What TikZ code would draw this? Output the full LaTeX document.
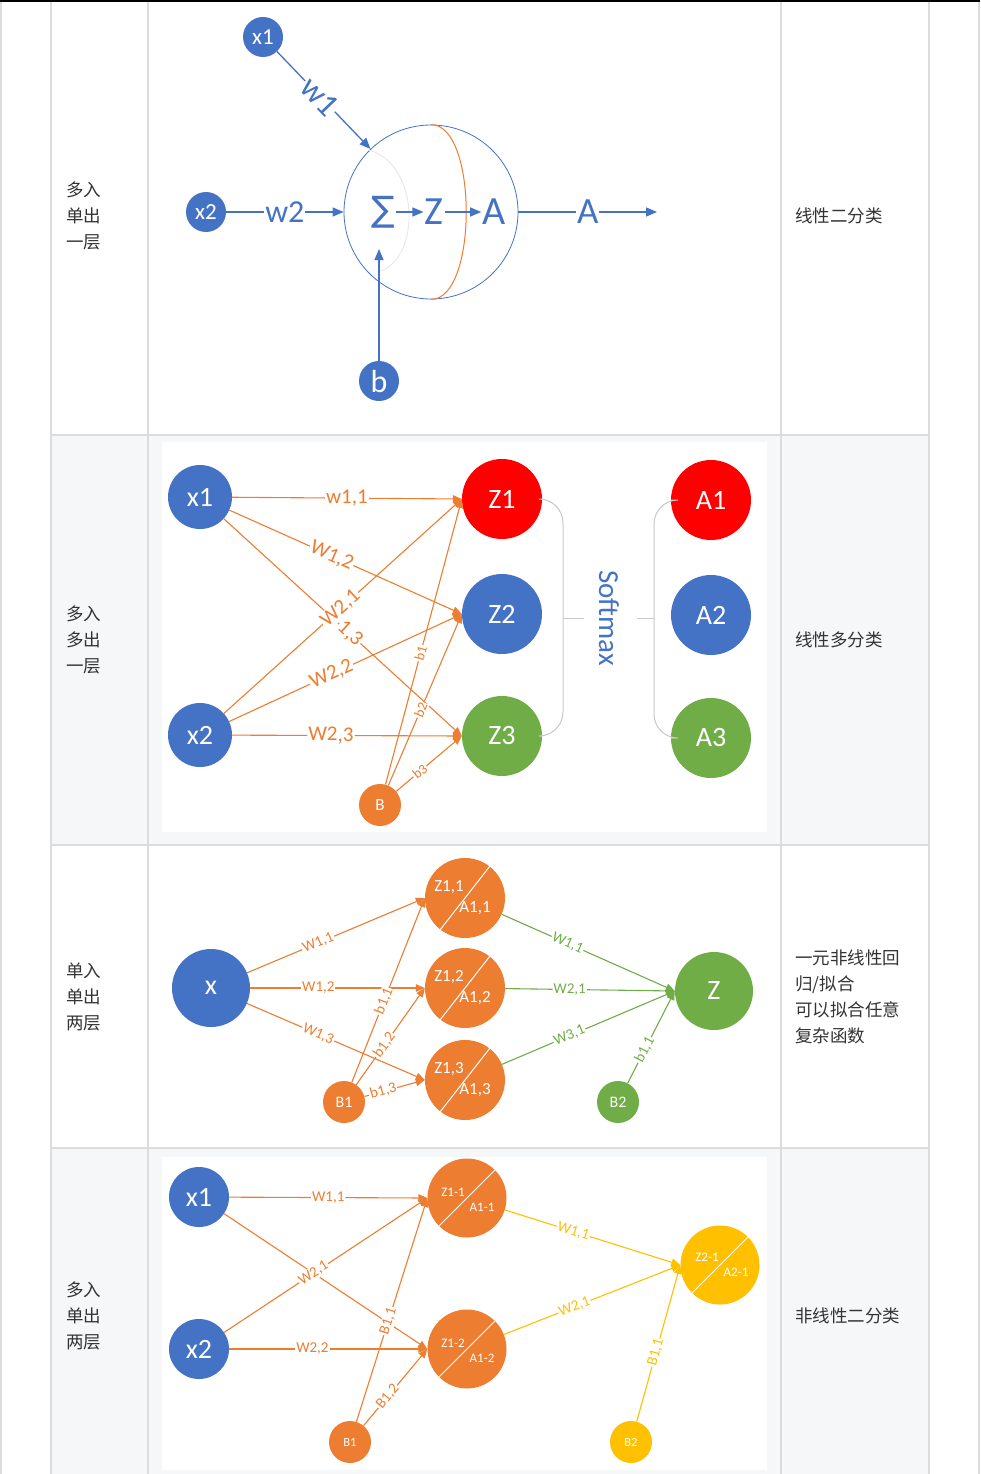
\documentclass[tikz,border=0pt]{standalone}
\usepackage{fontspec}
\setmainfont{Carlito}
\newfontfamily\cjk{Noto Sans CJK SC}
\newfontfamily\dvsans{DejaVu Sans}
\usepackage{xcolor}
\usepackage{tikz}
\usetikzlibrary{arrows.meta,calc}

\definecolor{cblue}{HTML}{4472C4}
\definecolor{corange}{HTML}{ED7D31}
\definecolor{cgreen}{HTML}{70AD47}
\definecolor{cred}{HTML}{FF0000}
\definecolor{cyellow}{HTML}{FFC000}
\definecolor{gridgray}{HTML}{DCDCDC}
\definecolor{rowgray}{HTML}{F6F7F9}
\definecolor{txtgray}{HTML}{333333}
\definecolor{bracketgray}{HTML}{C8C8C8}
\newcommand\fsz[1]{\fontsize{#1}{#1}\selectfont}

\tikzset{
  % --- table -----------------------------------------------------------------
  gridline/.style={gridgray,line width=2pt},
  celltxt/.style={anchor=west,align=left,inner sep=0pt,text=txtgray,
                  font=\cjk\fontsize{17.5}{26}\selectfont},
  % --- neurons ---------------------------------------------------------------
  unit/.style={circle,inner sep=0pt,text=white,minimum size=#1},
  inlab/.style={inner sep=0pt,text=white},
  % --- connectors ------------------------------------------------------------
  link/.style={-{Triangle[length=9pt,width=7.5pt]},line width=1.1pt},
  biglink/.style={-{Triangle[length=11pt,width=9pt]},line width=1.3pt,cblue},
  wlab/.style={pos=#1,sloped,fill=white,inner sep=1pt},
  brk/.style={bracketgray,line width=1pt},
}

\begin{document}
\begin{tikzpicture}[x=1pt, y=-1pt]
  \useasboundingbox (0,0) rectangle (980,1474);
  \fill[white] (0,0) rectangle (980,1474);

  % shaded rows and the two pasted figures on them
  \fill[rowgray] (51,435) rectangle (929,845);
  \fill[rowgray] (51,1148) rectangle (929,1474);
  \fill[white] (162,442) rectangle (767,832);
  \fill[white] (162,1157) rectangle (767,1470);
  \foreach \x in {1,51,148,781,929,979}
    \draw[gridline] (\x,0) -- (\x,1474);
  \foreach \y in {435,845,1148}
    \draw[gridline] (51,\y) -- (929,\y);
  \draw[black,line width=2pt] (0,1) -- (980,1);

  % first and last column
  \foreach \i/\y/\t in {1/216/{多入\\单出\\一层}, 2/640/{多入\\多出\\一层},
                        3/997/{单入\\单出\\两层}, 4/1316/{多入\\单出\\两层}}
    \node[celltxt] (kind\i) at (66,\y) {\t};
  \foreach \i/\y/\t in {1/216/线性二分类, 2/640/线性多分类, 4/1316/非线性二分类}
    \node[celltxt] (task\i) at (795,\y) {\t};
  \node[celltxt] (task3) at (795,997) {一元非线性回\\归/拟合\\可以拟合任意\\复杂函数};

  % --- row 1: one neuron ------------------------------------------------------
  \node[unit=174,draw=cblue,line width=0.8pt] (cell) at (431,212) {};
  \draw[black!10,line width=0.8pt] (369,150) .. controls (421,165) and (421,262) .. (377,272);
  \draw[corange,line width=1pt] (cell.north) .. controls +(47,0) and +(47,0) .. (cell.south);
  \node[unit=40,fill=cblue,font=\fsz{23}] (ax1) at (263,37) {x1};
  \node[unit=40,fill=cblue,font=\fsz{23}] (ax2) at (206,212) {x2};
  \node[unit=40,fill=cblue,font=\fsz{32}] (ab) at (379,381) {b};
  \node[text=cblue,inner sep=1pt,font=\dvsans\fsz{35}] (sig) at (383,212) {∑};
  \node[text=cblue,inner sep=1pt,font=\fsz{40}] (zz) at (434,212) {Z};
  \node[text=cblue,inner sep=1pt,font=\fsz{40}] (aa) at (494,212) {A};
  \coordinate (bend) at (379,249);
  \coordinate (aout) at (657,212);
  \draw[biglink] (ax1) -- node[wlab=0.46,font=\fsz{33}] {w1} (cell);
  \draw[biglink] (ax2) -- node[wlab=0.5,font=\fsz{32}] {w2} (cell.west);
  \draw[biglink] (ab) -- (bend);
  \draw[biglink] (sig) -- (zz);
  \draw[biglink] (zz) -- (aa);
  \draw[biglink] (cell.east) -- node[wlab=0.5,font=\fsz{37}] {A} (aout);

  % --- row 2: two inputs, three outputs, softmax -------------------------------
  \node[unit=64,fill=cblue,font=\fsz{28}] (bx1) at (200,497) {x1};
  \node[unit=64,fill=cblue,font=\fsz{28}] (bx2) at (200,735) {x2};
  \node[unit=42,fill=corange,font=\fsz{17}] (bb) at (380,805) {B};
  \foreach \n/\y/\c/\l in {z1/499/cred/Z1, z2/614/cblue/Z2, z3/736/cgreen/Z3}
    \node[unit=80,fill=\c,font=\fsz{28}] (\n) at (502,\y) {\l};
  \foreach \n/\y/\c/\l in {a1/500/cred/A1, a2/615/cblue/A2, a3/738/cgreen/A3}
    \node[unit=80,fill=\c,font=\fsz{28}] (\n) at (711,\y) {\l};
  \foreach \s/\t/\p/\w in {bx1/z1/0.5/{w1,1}, bx1/z2/0.44/{W1,2}, bx1/z3/0.53/{1,3},
                           bx2/z1/0.49/{W2,1}, bx2/z2/0.44/{W2,2}, bx2/z3/0.43/{W2,3}}
    \draw[link,corange] (\s) -- node[wlab=\p,font=\fsz{21}] {\w} (\t.west);
  \foreach \t/\p/\w in {z1/0.46/b1, z2/0.44/b2, z3/0.36/b3}
    \draw[link,corange] (bb) -- node[wlab=\p,font=\fsz{14}] {\w} (\t.west);
  \node[rotate=-90,inner sep=0pt,text=cblue,font=\fsz{29}] (smx) at (609,618) {Softmax};
  \coordinate (lk) at (563,618);
  \coordinate (rk) at (654,618);
  \draw[brk,rounded corners=24] (z1.east) -| (lk) |- (z3.east);
  \draw[brk,rounded corners=24] (a1.west) -| (rk) |- (a3.west);
  \draw[brk,shorten >=15pt] (lk) -- (smx.south);
  \draw[brk,shorten >=18pt] (rk) -- (smx.north);

  % --- row 3: one input, hidden layer of three --------------------------------
  \node[unit=78,fill=cblue,font=\fsz{28}] (cx) at (211,988) {x};
  \node[unit=78,fill=cgreen,font=\fsz{28}] (cz) at (714,991) {Z};
  \node[unit=42,fill=corange,font=\fsz{16}] (cb1) at (344,1102) {B1};
  \node[unit=42,fill=cgreen,font=\fsz{16}] (cb2) at (618,1102) {B2};
  \foreach \i/\y in {1/898,2/988,3/1080}{
    \node[unit=80,fill=corange] (h\i) at (465,\y) {};
    \draw[white,line width=1pt] (h\i.232) -- (h\i.52);
    \node[inlab,font=\fsz{17}] (hz\i) at ($(h\i)+(-16,-11)$) {Z1,\i};
    \node[inlab,font=\fsz{17}] (ha\i) at ($(h\i)+(10,10)$) {A1,\i};
  }
  \foreach \t/\p/\w in {h1/0.40/{W1,1}, h2/0.39/{W1,2}, h3/0.40/{W1,3}}
    \draw[link,corange] (cx) -- node[wlab=\p,font=\fsz{15}] {\w} (\t.west);
  \foreach \t/\p/\w in {h1/0.44/{b1,1}, h2/0.41/{b1,2}, h3/0.31/{b1,3}}
    \draw[link,corange] (cb1) -- node[wlab=\p,font=\fsz{15}] {\w} (\t.west);
  \foreach \s/\p/\w in {h1/0.38/{W1,1}, h2/0.38/{W2,1}, h3/0.39/{W3,1}, cb2/0.36/{b1,1}}
    \draw[link,cgreen] (\s) -- node[wlab=\p,font=\fsz{15}] {\w} (cz.west);

  % --- row 4: two inputs, hidden layer of two ---------------------------------
  \node[unit=60,fill=cblue,font=\fsz{28}] (dx1) at (199,1197) {x1};
  \node[unit=60,fill=cblue,font=\fsz{28}] (dx2) at (199,1349) {x2};
  \node[unit=42,fill=corange,font=\fsz{12.5}] (db1) at (350,1442) {B1};
  \node[unit=42,fill=cyellow,font=\fsz{12.5}] (db2) at (631,1442) {B2};
  \foreach \i/\y in {1/1198,2/1349}{
    \node[unit=79,fill=corange] (dh\i) at (467,\y) {};
    \draw[white,line width=1pt] (dh\i.225) -- (dh\i.45);
    \node[inlab,font=\fsz{13}] (dhz\i) at ($(dh\i)+(-14,-6)$) {Z1-\i};
    \node[inlab,font=\fsz{13}] (dha\i) at ($(dh\i)+(15,9)$) {A1-\i};
  }
  \node[unit=79,fill=cyellow] (dout) at (720,1265) {};
  \draw[white,line width=1pt] (dout.225) -- (dout.45);
  \node[inlab,font=\fsz{13}] (doz) at ($(dout)+(-13,-8)$) {Z2-1};
  \node[inlab,font=\fsz{13}] (doa) at ($(dout)+(16,7)$) {A2-1};
  \draw[link,corange] (dx1) -- node[wlab=0.5,font=\fsz{15}] {W1,1} (dh1.west);
  \draw[link,corange] (dx1) -- (dh2.west);
  \draw[link,corange] (dx2) -- node[wlab=0.44,font=\fsz{15}] {W2,1} (dh1.west);
  \draw[link,corange] (dx2) -- node[wlab=0.42,font=\fsz{15}] {W2,2} (dh2.west);
  \draw[link,corange] (db1) -- node[wlab=0.45,font=\fsz{15}] {B1,1} (dh1.west);
  \draw[link,corange] (db1) -- node[wlab=0.38,font=\fsz{15}] {B1,2} (dh2.west);
  \foreach \s/\p/\w in {dh1/0.39/{W1,1}, dh2/0.40/{W2,1}, db2/0.44/{B1,1}}
    \draw[link,cyellow] (\s) -- node[wlab=\p,font=\fsz{15}] {\w} (dout.west);
\end{tikzpicture}
\end{document}
